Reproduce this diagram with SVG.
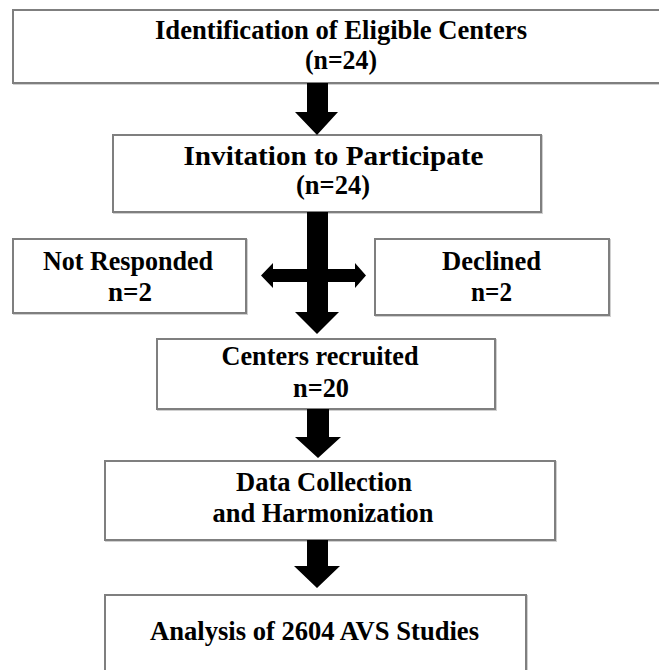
<svg xmlns="http://www.w3.org/2000/svg" width="659" height="670" viewBox="0 0 659 670">
<style>
.box{fill:#fff;stroke:#7f7f7f;stroke-width:2}
.shadow{fill:none;stroke:#d0d0d0;stroke-width:2}
.t{font-family:"Liberation Serif","Times New Roman",serif;font-weight:bold;font-size:27px;fill:#000;text-anchor:middle}
.arr{fill:#000}
</style>
<rect width="659" height="670" fill="#fff"/>
<g id="n1">
<rect class="shadow" x="14" y="11" width="660" height="73"/>
<rect class="box" x="13" y="10" width="660" height="73"/>
<text class="t" x="341" y="39" textLength="372" lengthAdjust="spacingAndGlyphs">Identification of Eligible Centers</text>
<text class="t" x="341" y="69" textLength="72" lengthAdjust="spacingAndGlyphs">(n=24)</text>
</g>
<g id="n2">
<rect class="shadow" x="114" y="136" width="428" height="77"/>
<rect class="box" x="113" y="135" width="428" height="77"/>
<text class="t" x="333.5" y="165" textLength="300" lengthAdjust="spacingAndGlyphs">Invitation to Participate</text>
<text class="t" x="333" y="194" textLength="74" lengthAdjust="spacingAndGlyphs">(n=24)</text>
</g>
<g id="n3">
<rect class="shadow" x="14" y="240" width="233" height="74"/>
<rect class="box" x="13" y="239" width="233" height="74"/>
<text class="t" x="128" y="270" textLength="170" lengthAdjust="spacingAndGlyphs">Not Responded</text>
<text class="t" x="130" y="301" textLength="44" lengthAdjust="spacingAndGlyphs">n=2</text>
</g>
<g id="n4">
<rect class="shadow" x="376" y="240" width="234" height="76"/>
<rect class="box" x="375" y="239" width="234" height="76"/>
<text class="t" x="491.5" y="270" textLength="99" lengthAdjust="spacingAndGlyphs">Declined</text>
<text class="t" x="491.5" y="301" textLength="41" lengthAdjust="spacingAndGlyphs">n=2</text>
</g>
<g id="n5">
<rect class="shadow" x="158" y="340" width="338" height="70"/>
<rect class="box" x="157" y="339" width="338" height="70"/>
<text class="t" x="320" y="365" textLength="197" lengthAdjust="spacingAndGlyphs">Centers recruited</text>
<text class="t" x="321" y="397" textLength="56" lengthAdjust="spacingAndGlyphs">n=20</text>
</g>
<g id="n6">
<rect class="shadow" x="106" y="462" width="450" height="79"/>
<rect class="box" x="105" y="461" width="450" height="79"/>
<text class="t" x="324" y="491" textLength="176" lengthAdjust="spacingAndGlyphs">Data Collection</text>
<text class="t" x="323" y="522" textLength="221" lengthAdjust="spacingAndGlyphs">and Harmonization</text>
</g>
<g id="n7">
<rect class="shadow" x="106" y="596" width="421" height="90"/>
<rect class="box" x="105" y="595" width="421" height="90"/>
<text class="t" x="314.5" y="640" textLength="329" lengthAdjust="spacingAndGlyphs">Analysis of 2604 AVS Studies</text>
</g>
<g id="connectors">
<polygon class="arr" points="307,83 328,83 328,112 338,112 317,135 295,112 307,112"/>
<polygon class="arr" points="307,212 328,212 328,269 355,269 355,263 366,275.5 355,288 355,282 328,282 328,312 339,312 317,334 295,312 307,312 307,282 273,282 273,288 261,275.5 273,263 273,269 307,269"/>
<polygon class="arr" points="307,409 329,409 329,437 341,437 318,458 295,437 307,437"/>
<polygon class="arr" points="307,540 328,540 328,566 340,566 317,588 294,566 307,566"/>
</g>
</svg>
